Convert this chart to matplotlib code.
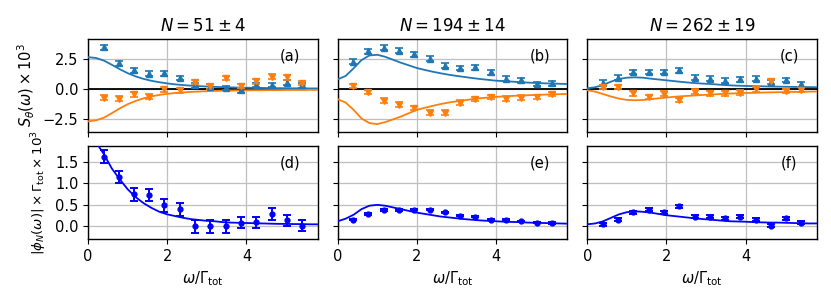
import matplotlib
matplotlib.use("Agg")
import matplotlib.pyplot as plt
import numpy as np

# ---------------------------------------------------------------------------
# data
# ---------------------------------------------------------------------------
titles = [r"$N = 51 \pm 4$", r"$N = 194 \pm 14$", r"$N = 262 \pm 19$"]
top_tags = ["(a)", "(b)", "(c)"]
bot_tags = ["(d)", "(e)", "(f)"]

# measured frequencies (omega / Gamma_tot)
omega = [0.39, 0.77, 1.16, 1.55, 1.93, 2.32, 2.71, 3.09, 3.48, 3.87, 4.25, 4.64, 5.03, 5.41]

# S_theta(omega) x 1e3, blue (^) and orange (v) points
s_blue_a = [3.53, 2.17, 1.58, 1.31, 1.33, 0.94, 0.33, 0.22, 0.10, -0.08, 0.36, 0.36, 0.56, 0.33]
s_orng_a = [-0.69, -0.78, -0.42, -0.61, 0.00, -0.08, 0.61, 0.25, 0.94, 0.28, 0.67, 1.06, 1.00, 0.53]
s_blue_b = [2.31, 3.19, 3.47, 3.22, 2.92, 2.56, 1.97, 1.78, 1.83, 1.42, 0.89, 0.75, 0.44, 0.50]
s_orng_b = [0.28, -0.22, -0.97, -1.28, -1.56, -1.97, -1.97, -1.14, -0.81, -0.64, -0.78, -0.72, -0.64, -0.39]
s_blue_c = [0.56, 0.97, 1.44, 1.44, 1.44, 1.58, 0.97, 0.89, 0.72, 0.83, 0.89, 0.61, 0.78, 0.42]
s_orng_c = [0.19, 0.19, -0.33, -0.64, -0.36, -0.89, -0.19, -0.33, -0.33, -0.28, 0.00, 0.67, -0.14, -0.03]
s_err = [0.2] * 14

# |phi_N(omega)| x Gamma_tot x 1e3
phi_d = [1.61, 1.15, 0.74, 0.72, 0.49, 0.40, 0.00, 0.00, 0.00, 0.09, 0.10, 0.29, 0.14, 0.02]
phi_d_err = [0.15, 0.14, 0.14, 0.14, 0.15, 0.15, 0.14, 0.14, 0.14, 0.13, 0.13, 0.13, 0.13, 0.13]
phi_e = [0.16, 0.29, 0.38, 0.38, 0.39, 0.39, 0.33, 0.25, 0.23, 0.16, 0.15, 0.12, 0.09, 0.08]
phi_e_err = [0.015] * 14
phi_f = [0.05, 0.16, 0.33, 0.39, 0.33, 0.47, 0.22, 0.23, 0.19, 0.22, 0.16, 0.02, 0.19, 0.09]
phi_f_err = [0.035] * 14

# model curves, sampled on a 0.2 grid
omega_fit = [0.0, 0.2, 0.4, 0.6, 0.8, 1.0, 1.2, 1.4, 1.6, 1.8, 2.0, 2.2, 2.4, 2.6, 2.8,
             3.0, 3.2, 3.4, 3.6, 3.8, 4.0, 4.2, 4.4, 4.6, 4.8, 5.0, 5.2, 5.4, 5.6, 5.8]
fit_blue_a = [2.69, 2.62, 2.40, 2.05, 1.68, 1.35, 1.08, 0.87, 0.71, 0.59, 0.49, 0.41, 0.35, 0.30, 0.26,
              0.23, 0.20, 0.18, 0.16, 0.14, 0.13, 0.12, 0.11, 0.10, 0.09, 0.09, 0.08, 0.08, 0.07, 0.07]
fit_orng_a = [-2.69, -2.60, -2.38, -2.00, -1.60, -1.25, -0.98, -0.76, -0.60, -0.47, -0.38, -0.31, -0.26, -0.22, -0.19,
              -0.16, -0.14, -0.12, -0.11, -0.10, -0.09, -0.08, -0.08, -0.07, -0.07, -0.06, -0.06, -0.06, -0.05, -0.05]
fit_blue_b = [0.83, 1.11, 1.75, 2.44, 2.83, 2.89, 2.72, 2.47, 2.22, 2.00, 1.78, 1.62, 1.47, 1.34, 1.22,
              1.12, 1.03, 0.94, 0.86, 0.79, 0.72, 0.68, 0.64, 0.60, 0.56, 0.53, 0.50, 0.48, 0.46, 0.44]
fit_orng_b = [-0.83, -1.11, -1.72, -2.44, -2.83, -2.92, -2.75, -2.52, -2.28, -2.00, -1.72, -1.55, -1.39, -1.24, -1.11,
              -1.01, -0.92, -0.83, -0.75, -0.69, -0.64, -0.60, -0.56, -0.53, -0.50, -0.47, -0.45, -0.43, -0.41, -0.39]
fit_blue_c = [0.08, 0.17, 0.36, 0.64, 0.86, 0.97, 1.00, 0.97, 0.89, 0.82, 0.75, 0.68, 0.61, 0.55, 0.50,
              0.46, 0.42, 0.37, 0.33, 0.30, 0.28, 0.26, 0.25, 0.23, 0.22, 0.21, 0.20, 0.19, 0.18, 0.17]
fit_orng_c = [-0.08, -0.20, -0.40, -0.61, -0.78, -0.89, -0.92, -0.90, -0.83, -0.76, -0.69, -0.63, -0.58, -0.54, -0.50,
              -0.46, -0.43, -0.39, -0.36, -0.33, -0.31, -0.30, -0.28, -0.26, -0.25, -0.23, -0.22, -0.21, -0.20, -0.19]
fit_d = [2.10, 1.95, 1.67, 1.34, 1.09, 0.86, 0.68, 0.54, 0.43, 0.34, 0.28, 0.24, 0.20, 0.17, 0.15,
         0.13, 0.12, 0.10, 0.09, 0.085, 0.08, 0.075, 0.07, 0.065, 0.06, 0.06, 0.055, 0.055, 0.05, 0.05]
fit_e = [0.12, 0.18, 0.27, 0.40, 0.48, 0.50, 0.48, 0.44, 0.40, 0.36, 0.32, 0.29, 0.26, 0.23, 0.21,
         0.19, 0.17, 0.155, 0.14, 0.13, 0.12, 0.11, 0.105, 0.10, 0.09, 0.085, 0.08, 0.075, 0.07, 0.065]
fit_f = [0.05, 0.07, 0.12, 0.20, 0.28, 0.33, 0.35, 0.34, 0.32, 0.29, 0.26, 0.24, 0.22, 0.20, 0.18,
         0.165, 0.15, 0.135, 0.12, 0.115, 0.11, 0.10, 0.095, 0.09, 0.09, 0.085, 0.08, 0.075, 0.07, 0.07]

top_pts = [(s_blue_a, s_orng_a), (s_blue_b, s_orng_b), (s_blue_c, s_orng_c)]
top_fits = [(fit_blue_a, fit_orng_a), (fit_blue_b, fit_orng_b), (fit_blue_c, fit_orng_c)]
bot_pts = [(phi_d, phi_d_err), (phi_e, phi_e_err), (phi_f, phi_f_err)]
bot_fits = [fit_d, fit_e, fit_f]

C_BLUE = "#1f77b4"
C_ORNG = "#ff7f0e"

plt.rcParams["font.size"] = 10.5
plt.rcParams["axes.linewidth"] = 1.0

fig, axes = plt.subplots(2, 3, figsize=(8.31, 3.08), dpi=100, sharex=True, sharey="row")
fig.subplots_adjust(left=0.106, right=0.983, top=0.873, bottom=0.224, wspace=0.087, hspace=0.16)

for j in range(3):
    ax = axes[0, j]
    ax.grid(True, color="0.75", linewidth=0.9)
    ax.axhline(0, color="black", linewidth=1.3, zorder=2)
    blue, orng = top_pts[j]
    fb, fo = top_fits[j]
    ax.plot(omega_fit, fb, color=C_BLUE, linewidth=1.3, zorder=3)
    ax.plot(omega_fit, fo, color=C_ORNG, linewidth=1.3, zorder=3)
    ax.errorbar(omega, blue, yerr=s_err, fmt="^", color=C_BLUE, markersize=4.5,
                capsize=3, elinewidth=1.2, capthick=1.2, zorder=4)
    ax.errorbar(omega, orng, yerr=s_err, fmt="v", color=C_ORNG, markersize=4.5,
                capsize=3, elinewidth=1.2, capthick=1.2, zorder=4)
    ax.set_title(titles[j], fontsize=12)
    ax.text(0.88, 0.82, top_tags[j], transform=ax.transAxes, ha="center", va="center")
    ax.set_ylim(-3.55, 4.2)
    ax.set_yticks([-2.5, 0.0, 2.5])

    ax = axes[1, j]
    ax.grid(True, color="0.75", linewidth=0.9)
    vals, errs = bot_pts[j]
    ax.plot(omega_fit, bot_fits[j], color="blue", linewidth=1.3, zorder=3)
    ax.errorbar(omega, vals, yerr=errs, fmt="o", color="blue", markersize=3.5,
                capsize=3, elinewidth=1.4, capthick=1.4, zorder=4)
    ax.text(0.88, 0.82, bot_tags[j], transform=ax.transAxes, ha="center", va="center")
    ax.set_ylim(-0.29, 1.85)
    ax.set_yticks([0.0, 0.5, 1.0, 1.5])
    ax.set_xlabel(r"$\omega/\Gamma_{\rm tot}$")

axes[1, 0].set_xlim(0, 5.8)
axes[1, 0].set_xticks([0, 2, 4])
axes[0, 0].set_ylabel(r"$S_\theta(\omega)\times10^3$")
axes[1, 0].set_ylabel(r"$|\phi_N(\omega)|\times\Gamma_{\rm tot}\times10^3$", fontsize=9.6)

fig.savefig("out.png", dpi=100)
